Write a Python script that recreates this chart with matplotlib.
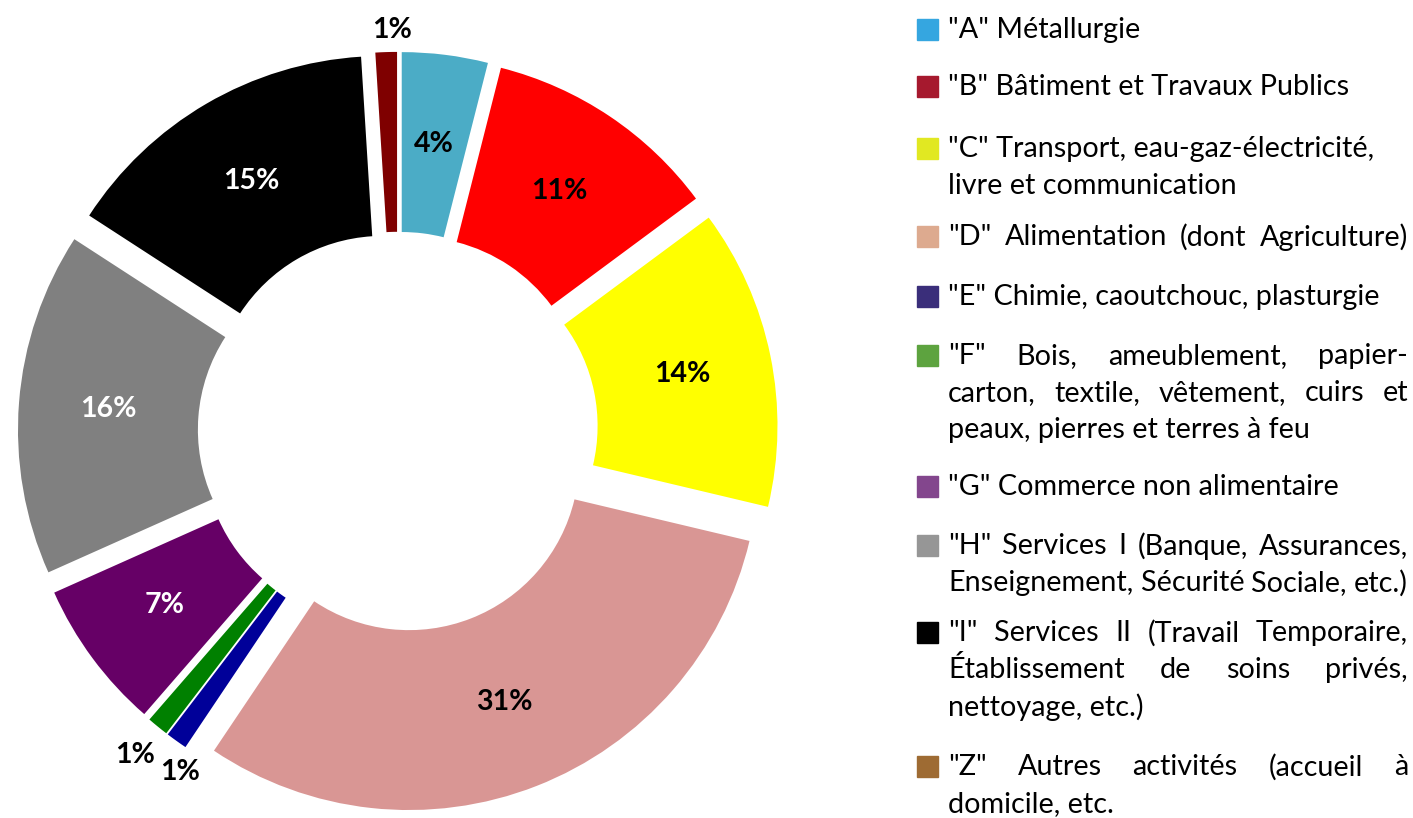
import matplotlib
matplotlib.use("Agg")
import matplotlib.pyplot as plt
from matplotlib.patches import Rectangle
import numpy as np

# part de chaque secteur, dans l'ordre du dessin (sens horaire depuis midi)
valeurs = [4, 11, 14, 31, 1, 1, 7, 16, 15, 1]
couleurs = ["#4BACC6", "#FF0000", "#FFFF00", "#D99694", "#000099",
            "#008000", "#660066", "#808080", "#000000", "#7F0000"]
coul_texte = ["black", "black", "black", "black", "black",
              "black", "white", "white", "white", "black"]
# etiquettes placees hors de l'anneau : indice -> (rayon, decalage d'angle en degres)
petits = {4: (1.155, -3.0), 5: (1.19, 0.0), 9: (1.15, 1.0)}

# legende : (couleur, lignes, justifier la ligne ?)
legende = [
    ("#35A6E0", ['"A" Métallurgie'], [False]),
    ("#A6192E", ['"B" Bâtiment et Travaux Publics'], [False]),
    ("#E1E822", ['"C" Transport, eau-gaz-électricité,', 'livre et communication'], [False, False]),
    ("#DDAA8F", ['"D" Alimentation (dont Agriculture)'], [True]),
    ("#3A2E7A", ['"E" Chimie, caoutchouc, plasturgie'], [False]),
    ("#5DA33F", ['"F" Bois, ameublement, papier-', 'carton, textile, vêtement, cuirs et',
                 'peaux, pierres et terres à feu'], [True, True, False]),
    ("#83468D", ['"G" Commerce non alimentaire'], [False]),
    ("#969696", ['"H" Services I (Banque, Assurances,', 'Enseignement, Sécurité Sociale, etc.)'], [True, True]),
    ("#000000", ['"I" Services II (Travail Temporaire,', 'Établissement de soins privés,',
                 'nettoyage, etc.)'], [True, True, False]),
    ("#9E6B33", ['"Z" Autres activités (accueil à', 'domicile, etc.'], [True, False]),
]
leg_y = [30, 87, 149, 237, 297, 356, 487, 546, 633, 767]  # centre 1re ligne (px depuis le haut)

W, H = 1413, 818
fig = plt.figure(figsize=(W / 100, H / 100), dpi=100)

# anneau
cx, cy, R = 398, 432, 350
half = 420
ax = fig.add_axes([(cx - half) / W, (H - cy - half) / H, 2 * half / W, 2 * half / H])

ex = 0.086
wedges, _ = ax.pie(valeurs, colors=couleurs, startangle=90, counterclock=False,
                   explode=[ex] * len(valeurs), radius=1.0,
                   wedgeprops=dict(width=0.514, linewidth=0))
ax.set_xlim(-half / R, half / R)
ax.set_ylim(-half / R, half / R)
ax.set_aspect("auto")
ax.axis("off")

for i, w in enumerate(wedges):
    ang = (w.theta1 + w.theta2) / 2
    if i in petits:
        rr, d = petits[i]
        ang -= d
    else:
        rr = 0.743 + ex
    ang = np.deg2rad(ang)
    ax.text(rr * np.cos(ang), rr * np.sin(ang), f"{valeurs[i]}%",
            ha="center", va="center", fontsize=20.5, fontweight="bold",
            family="Lato", color=coul_texte[i])

# legende
fig.canvas.draw()
rend = fig.canvas.get_renderer()
x0, x1 = 948, 1408
line_h = 37
fs = 19


def largeur(s, taille):
    t = fig.text(0, 0, s, fontsize=taille, family="Lato")
    bb = t.get_window_extent(renderer=rend)
    t.remove()
    return bb.width


# taille choisie pour que la ligne la plus longue tienne dans le bloc
plus_longue = max(largeur(s, fs) for _, lignes, _ in legende for s in lignes)
fs = fs * (x1 - x0) / plus_longue

for (c, lignes, just), y in zip(legende, leg_y):
    fig.patches.append(Rectangle((917 / W, 1 - (y + 10) / H), 21 / W, 21 / H,
                                 transform=fig.transFigure, color=c, figure=fig))
    for k, (s, j) in enumerate(zip(lignes, just)):
        yy = 1 - (y + k * line_h) / H
        mots = s.split(" ")
        if j and len(mots) > 1:
            lw = [largeur(m, fs) for m in mots]
            gap = (x1 - x0 - sum(lw)) / (len(mots) - 1)
            x = x0
            for m, l in zip(mots, lw):
                fig.text(x / W, yy, m, fontsize=fs, family="Lato", va="center", ha="left")
                x += l + gap
        else:
            fig.text(x0 / W, yy, s, fontsize=fs, family="Lato", va="center", ha="left")

fig.savefig("out.png", dpi=100)
